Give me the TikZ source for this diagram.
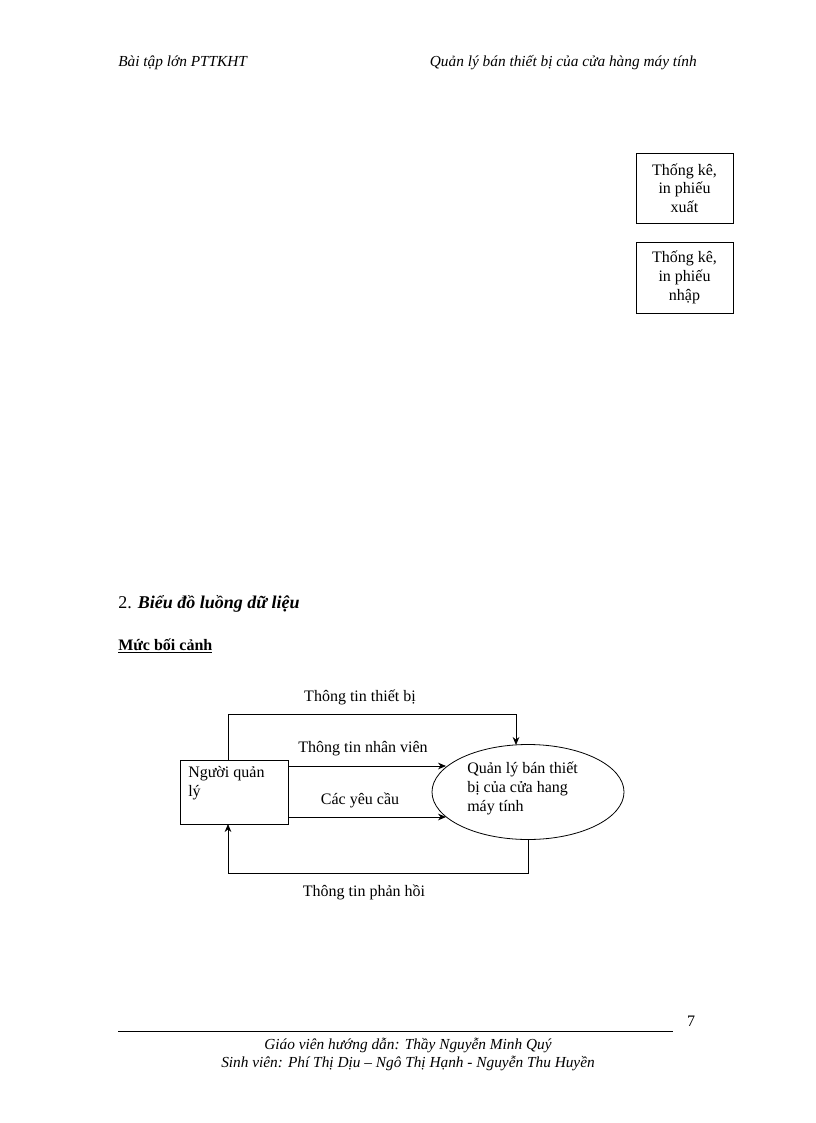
\documentclass[tikz,border=0pt]{standalone}
\usepackage{fontspec}
\setmainfont{Liberation Serif}
\usetikzlibrary{shapes.geometric,arrows.meta}
\begin{document}
\begin{tikzpicture}[x=0.75pt,y=-0.75pt,
  txt/.style={font=\fontsize{12}{14}\selectfont,inner sep=0pt},
  sbox/.style={draw,line width=0.6pt,align=center,font=\fontsize{12}{14}\selectfont,inner sep=0pt},
  flow/.style={line width=0.6pt,-{Stealth[length=6pt,width=5pt]}},
  plain/.style={line width=0.6pt}]
\useasboundingbox (0,0) rectangle (816,1123);
\node[txt,anchor=west,font=\itshape\fontsize{11.5}{13}\selectfont] (hl) at (118,63) {Bài tập lớn PTTKHT};
\node[txt,anchor=east,font=\itshape\fontsize{11.5}{13}\selectfont] (hr) at (697,63) {Quản lý bán thiết bị của cửa hàng máy tính};
\node[sbox,minimum width=97*0.75pt,minimum height=70*0.75pt] (b1) at (684.5,188) {Thống kê,\\in phiếu\\xuất};
\node[sbox,minimum width=97*0.75pt,minimum height=71*0.75pt] (b2) at (684.5,277.5) {Thống kê,\\in phiếu\\nhập};
\node[txt,anchor=west,font=\fontsize{13.5}{16}\selectfont] (h2) at (118,604) {2. \textbf{\textit{Biểu đồ luồng dữ liệu}}};
\node[txt,anchor=west,font=\bfseries\fontsize{12}{14}\selectfont] (h3) at (118,646) {\underline{Mức bối cảnh}};
\node[draw,line width=0.6pt,minimum width=108*0.75pt,minimum height=64*0.75pt,inner sep=0pt] (p) at (234,792) {};
\node[txt,anchor=north west,align=left] (pt) at (188,766) {Người quản\\lý};
\node[draw,ellipse,line width=0.6pt,minimum width=192*0.75pt,minimum height=95*0.75pt,inner sep=0pt] (e) at (528,792) {};
\node[txt,anchor=north west,align=left] (et) at (467,762) {Quản lý bán thiết\\bị của cửa hang\\máy tính};
\coordinate (t1) at (228,760);
\coordinate (t2) at (228,714);
\coordinate (t3) at (516,714);
\coordinate (t4) at (516,745);
\draw[flow] (t1) -- (t2) -- (t3) -- (t4);
\node[txt] (l1) at (360,697) {Thông tin thiết bị};
\coordinate (a1) at (288,766); \coordinate (a2) at (446,766);
\draw[flow] (a1) -- (a2);
\node[txt] (l2) at (363,749) {Thông tin nhân viên};
\coordinate (c1) at (288,817); \coordinate (c2) at (446,817);
\draw[flow] (c1) -- (c2);
\node[txt] (l3) at (360,800) {Các yêu cầu};
\coordinate (d1) at (528,839); \coordinate (d2) at (528,873);
\coordinate (d3) at (228,873); \coordinate (d4) at (228,824);
\draw[flow] (d1) -- (d2) -- (d3) -- (d4);
\node[txt] (l4) at (364,892) {Thông tin phản hồi};
\coordinate (f1) at (118,1031); \coordinate (f2) at (673,1031);
\draw[plain] (f1) -- (f2);
\node[txt] (pg) at (691,1021) {7};
\node[txt,font=\itshape\fontsize{11.5}{13}\selectfont] (ft1) at (408,1045) {Giáo viên hướng dẫn: Thầy Nguyễn Minh Quý};
\node[txt,font=\itshape\fontsize{11.5}{13}\selectfont] (ft2) at (408,1063) {Sinh viên: Phí Thị Dịu – Ngô Thị Hạnh - Nguyễn Thu Huyền};
\end{tikzpicture}
\end{document}
